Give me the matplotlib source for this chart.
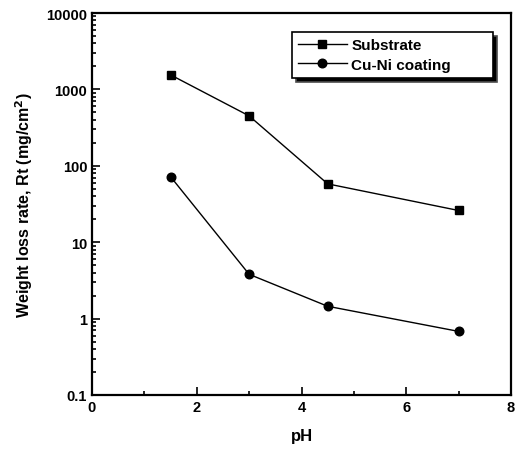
import matplotlib.pyplot as plt
from matplotlib.ticker import LogLocator, MultipleLocator, FixedLocator

plt.rcParams['font.family'] = ['Liberation Sans', 'DejaVu Sans']
plt.rcParams['font.weight'] = 'bold'

ph = [1.5, 3.0, 4.5, 7.0]
substrate = [1550, 450, 58, 26]
coating = [72, 3.8, 1.45, 0.68]

fig = plt.figure(figsize=(5.16, 4.52), dpi=100)
ax = fig.add_axes([92 / 516, 1 - 396 / 452, (511 - 92) / 516, (396 - 14) / 452])

ax.plot(ph, substrate, color="black", linewidth=1.0, marker="s", markersize=5.5, label="Substrate")
ax.plot(ph, coating, color="black", linewidth=1.0, marker="o", markersize=6.2, label="Cu-Ni coating")

ax.set_yscale("log")
ax.set_xlim(0, 8)
ax.set_ylim(0.1, 10000)
ax.xaxis.set_major_locator(MultipleLocator(2))
ax.xaxis.set_minor_locator(MultipleLocator(1))
ax.yaxis.set_major_locator(FixedLocator([0.1, 1, 10, 100, 1000, 10000]))
ax.yaxis.set_minor_locator(LogLocator(base=10, subs=range(2, 10), numticks=20))
ax.set_yticklabels(["0.1", "1", "10", "100", "1000", "10000"])

ax.tick_params(which="both", direction="in", top=False, right=False, labelsize=10.5, width=1.2)
ax.tick_params(which="major", length=6)
ax.tick_params(which="minor", length=3)
for s in ax.spines.values():
    s.set_linewidth(1.6)

ax.set_xlabel("pH", fontsize=12, fontweight="bold", labelpad=10)
ax.set_ylabel("Weight loss rate, Rt (mg/cm$^2$)", fontsize=11.5, fontweight="bold", labelpad=8)

leg = ax.legend(loc="upper left", bbox_to_anchor=(0.477, 0.835, 0.48, 0.115), mode="expand",
                borderaxespad=0, fancybox=False, fontsize=11,
                shadow={"facecolor": "black", "alpha": 1.0, "ox": 3, "oy": -3},
                handlelength=3.2, borderpad=0.4, labelspacing=0.35, handletextpad=0.3)
leg.get_frame().set_edgecolor("black")
leg.get_frame().set_linewidth(1.2)
for t in leg.get_texts():
    t.set_fontweight("bold")

plt.savefig("out.png", dpi=100)
plt.close(fig)
